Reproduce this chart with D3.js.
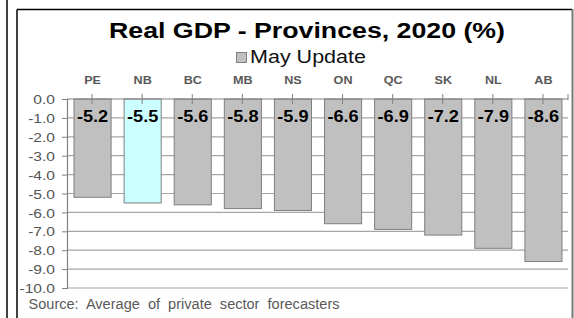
<html>
<head>
  <meta charset="utf-8">
  <script type="text/javascript" src="https://cdn.jsdelivr.net/npm/d3@7/dist/d3.min.js"></script>
  <style>
  body { margin: 0; background: #fff; }
  text { font-family: "Liberation Sans", Arial, sans-serif; }
  </style>
</head>
<body>

<script type="text/javascript">
var provinces = ["PE", "NB", "BC", "MB", "NS", "ON", "QC", "SK", "NL", "AB"];
var growth = [-5.2, -5.5, -5.6, -5.8, -5.9, -6.6, -6.9, -7.2, -7.9, -8.6];
var yTicks = [0, -1, -2, -3, -4, -5, -6, -7, -8, -9, -10];
var highlight = "NB";

var width = 574, height = 318;
var stretch = 1.2; // text in the original is drawn a bit wide

var svg = d3.select("body").append("svg")
  .attr("width", width)
  .attr("height", height);

// outer lines / frame
svg.append("line")
  .attr("x1", 7).attr("x2", 7).attr("y1", 0).attr("y2", height)
  .attr("stroke", "#000").attr("stroke-width", 1.5);
svg.append("line")
  .attr("x1", 17).attr("x2", 17).attr("y1", 9.5).attr("y2", height)
  .attr("stroke", "#000").attr("stroke-width", 1.5);
svg.append("line")
  .attr("x1", 17).attr("x2", 572).attr("y1", 9.5).attr("y2", 9.5)
  .attr("stroke", "#000").attr("stroke-width", 1.5);
svg.append("line")
  .attr("x1", 572.5).attr("x2", 572.5).attr("y1", 9).attr("y2", height)
  .attr("stroke", "#777").attr("stroke-width", 2);

var x = d3.scaleBand()
  .domain(provinces)
  .range([67, 568])
  .paddingInner(0.26)
  .paddingOuter(0.13);

var y = d3.scaleLinear()
  .domain([0, -10])
  .range([99, 288]);

// gridlines
svg.append("g")
  .selectAll("line")
  .data(yTicks.slice(1))
  .enter().append("line")
  .attr("x1", 67).attr("x2", 568)
  .attr("y1", function(d) { return y(d); })
  .attr("y2", function(d) { return y(d); })
  .attr("stroke", "#a6a6a6")
  .attr("stroke-width", 1.2);

// bars
svg.append("g")
  .selectAll("rect")
  .data(provinces)
  .enter().append("rect")
  .attr("x", function(d) { return x(d) + 0.5; })
  .attr("y", y(0))
  .attr("width", x.bandwidth())
  .attr("height", function(d, i) { return y(growth[i]) - y(0); })
  .attr("fill", function(d) { return d == highlight ? "#ccffff" : "#c0c0c0"; })
  .attr("stroke", "#7f7f7f")
  .attr("stroke-width", 1);

// y axis
var yAxis = d3.axisLeft(y)
  .tickValues(yTicks)
  .tickSize(5)
  .tickFormat(function(d) { return d.toFixed(1); });
var yg = svg.append("g")
  .attr("transform", "translate(67,0)")
  .call(yAxis);
yg.select(".domain").attr("stroke", "#808080").attr("stroke-width", 1.2);
yg.selectAll(".tick line").attr("stroke", "#808080");
yg.selectAll(".tick text")
  .attr("x", 0)
  .attr("dy", "0.36em")
  .attr("transform", "translate(-12,0) scale(" + stretch + ",1)")
  .attr("fill", "#555")
  .style("font-size", "13px")
  .style("font-family", "'Liberation Sans', Arial, sans-serif");

// x axis at zero, ticks crossing the line at category centres
svg.append("line")
  .attr("x1", 67).attr("x2", 568).attr("y1", y(0)).attr("y2", y(0))
  .attr("stroke", "#808080").attr("stroke-width", 1.2);
svg.append("g")
  .selectAll("line")
  .data(provinces)
  .enter().append("line")
  .attr("x1", function(d) { return x(d) + x.bandwidth() / 2; })
  .attr("x2", function(d) { return x(d) + x.bandwidth() / 2; })
  .attr("y1", y(0) - 5).attr("y2", y(0) + 5)
  .attr("stroke", "#808080");
svg.append("line")
  .attr("x1", 568).attr("x2", 568).attr("y1", y(0) - 5).attr("y2", y(0) + 1)
  .attr("stroke", "#808080");

// category labels
svg.append("g")
  .selectAll("text")
  .data(provinces)
  .enter().append("text")
  .attr("transform", function(d) {
    return "translate(" + (x(d) + x.bandwidth() / 2 + 0.5) + ",84) scale(" + stretch + ",1)";
  })
  .attr("text-anchor", "middle")
  .attr("fill", "#595959")
  .style("font-size", "10.5px")
  .style("font-weight", "bold")
  .text(function(d) { return d; });

// value labels
svg.append("g")
  .selectAll("text")
  .data(provinces)
  .enter().append("text")
  .attr("transform", function(d) {
    return "translate(" + (x(d) + x.bandwidth() / 2 + 0.5) + ",122) scale(1.1,1)";
  })
  .attr("text-anchor", "middle")
  .attr("fill", "#000")
  .style("font-size", "16.5px")
  .style("font-weight", "bold")
  .text(function(d, i) { return growth[i].toFixed(1); });

// title
svg.append("text")
  .attr("x", 109).attr("y", 38.3)
  .attr("textLength", 396)
  .attr("lengthAdjust", "spacingAndGlyphs")
  .style("font-size", "22.5px")
  .style("font-weight", "bold")
  .text("Real GDP - Provinces, 2020 (%)");

// legend
svg.append("rect")
  .attr("x", 236.5).attr("y", 52.5)
  .attr("width", 10).attr("height", 10)
  .attr("fill", "#c0c0c0")
  .attr("stroke", "#7f7f7f");
svg.append("text")
  .attr("x", 250).attr("y", 62.7)
  .attr("textLength", 116)
  .attr("lengthAdjust", "spacingAndGlyphs")
  .style("font-size", "18.7px")
  .attr("fill", "#111")
  .text("May Update");

// source
svg.append("text")
  .attr("x", 28.5).attr("y", 308.7)
  .attr("textLength", 311)
  .attr("lengthAdjust", "spacingAndGlyphs")
  .attr("fill", "#595959")
  .style("font-size", "15.5px")
  .text("Source:  Average  of  private  sector  forecasters")
  .style("white-space", "pre");
</script>

</body>
</html>
